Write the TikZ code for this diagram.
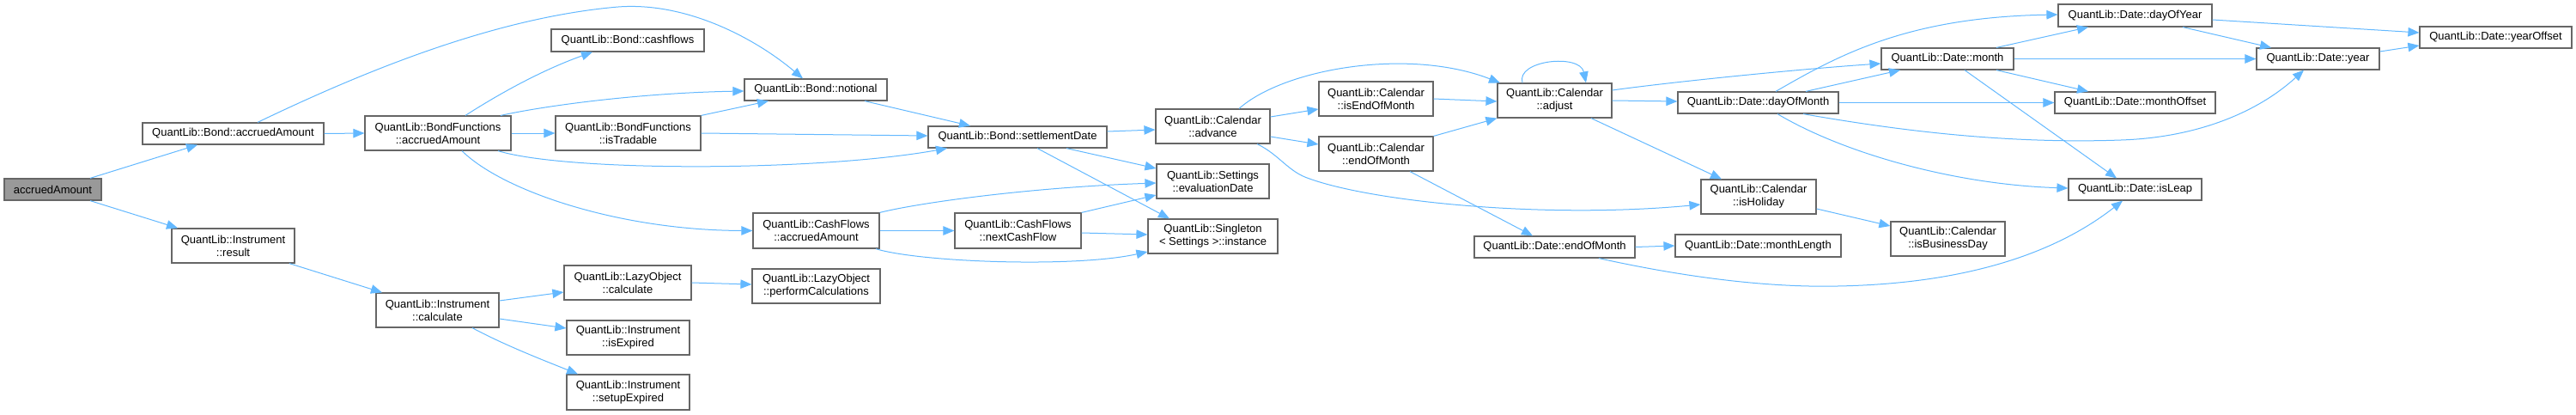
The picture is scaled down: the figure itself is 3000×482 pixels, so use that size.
\documentclass[tikz,border=0pt]{standalone}
\usepackage{fontspec}
\setmainfont{Liberation Sans}
\usetikzlibrary{arrows.meta}
\definecolor{edgecol}{HTML}{63B8FF}
\definecolor{bordercol}{HTML}{666666}
\definecolor{rootfill}{HTML}{999999}
\begin{document}
\begin{tikzpicture}[x=1pt,y=-1pt,
  box/.style={draw=bordercol,line width=1.2pt,fill=white,inner sep=0pt,align=center,
    font=\fontsize{13}{15}\selectfont},
  root/.style={box,fill=rootfill},
  e/.style={draw=edgecol,line width=1pt,-{Triangle[length=13pt,width=10.5pt]}}]
\useasboundingbox (0,0) rectangle (3000,482);
% nodes
\node[root,minimum width=113pt,minimum height=25pt] (n0) at (61.5,220.5) {accruedAmount};
\node[box,minimum width=211pt,minimum height=25pt] (n1) at (271.5,155.5) {QuantLib::Bond::accruedAmount};
\node[box,minimum width=143pt,minimum height=40pt] (n2) at (271.5,286) {QuantLib::Instrument\\::result};
\node[box,minimum width=170pt,minimum height=40pt] (n3) at (510,155) {QuantLib::BondFunctions\\::accruedAmount};
\node[box,minimum width=143pt,minimum height=40pt] (n4) at (509.5,361) {QuantLib::Instrument\\::calculate};
\node[box,minimum width=178pt,minimum height=26pt] (n5) at (731,47) {QuantLib::Bond::cashflows};
\node[box,minimum width=166pt,minimum height=25pt] (n6) at (950,104.5) {QuantLib::Bond::notional};
\node[box,minimum width=169pt,minimum height=40pt] (n7) at (731.5,155) {QuantLib::BondFunctions\\::isTradable};
\node[box,minimum width=147pt,minimum height=41pt] (n8) at (950.5,268.5) {QuantLib::CashFlows\\::accruedAmount};
\node[box,minimum width=148pt,minimum height=40pt] (n9) at (731,329) {QuantLib::LazyObject\\::calculate};
\node[box,minimum width=149pt,minimum height=40pt] (n10) at (950.5,333) {QuantLib::LazyObject\\::performCalculations};
\node[box,minimum width=143pt,minimum height=40pt] (n11) at (731.5,393) {QuantLib::Instrument\\::isExpired};
\node[box,minimum width=143pt,minimum height=41pt] (n12) at (731.5,456.5) {QuantLib::Instrument\\::setupExpired};
\node[box,minimum width=208pt,minimum height=25pt] (n13) at (1185,159.5) {QuantLib::Bond::settlementDate};
\node[box,minimum width=133pt,minimum height=40pt] (n14) at (1412.5,147) {QuantLib::Calendar\\::advance};
\node[box,minimum width=131pt,minimum height=40pt] (n15) at (1412.5,211) {QuantLib::Settings\\::evaluationDate};
\node[box,minimum width=151pt,minimum height=40pt] (n16) at (1412.5,275) {QuantLib::Singleton\\< Settings >::instance};
\node[box,minimum width=147pt,minimum height=41pt] (n17) at (1185.5,268.5) {QuantLib::CashFlows\\::nextCashFlow};
\node[box,minimum width=133pt,minimum height=40pt] (n18) at (1602.5,115) {QuantLib::Calendar\\::isEndOfMonth};
\node[box,minimum width=133pt,minimum height=40pt] (n19) at (1602.5,179) {QuantLib::Calendar\\::endOfMonth};
\node[box,minimum width=133pt,minimum height=40pt] (n20) at (1810.5,117) {QuantLib::Calendar\\::adjust};
\node[box,minimum width=187pt,minimum height=25pt] (n21) at (1810.5,287.5) {QuantLib::Date::endOfMonth};
\node[box,minimum width=134pt,minimum height=40pt] (n22) at (2048,229) {QuantLib::Calendar\\::isHoliday};
\node[box,minimum width=187pt,minimum height=25pt] (n23) at (2047.5,119.5) {QuantLib::Date::dayOfMonth};
\node[box,minimum width=193pt,minimum height=26pt] (n24) at (2047.5,286) {QuantLib::Date::monthLength};
\node[box,minimum width=179pt,minimum height=26pt] (n25) at (2486.5,18) {QuantLib::Date::dayOfYear};
\node[box,minimum width=154pt,minimum height=25pt] (n26) at (2268,68.5) {QuantLib::Date::month};
\node[box,minimum width=187pt,minimum height=25pt] (n27) at (2486.5,119.5) {QuantLib::Date::monthOffset};
\node[box,minimum width=155pt,minimum height=25pt] (n28) at (2486.5,220.5) {QuantLib::Date::isLeap};
\node[box,minimum width=133pt,minimum height=40pt] (n29) at (2268.5,278) {QuantLib::Calendar\\::isBusinessDay};
\node[box,minimum width=143pt,minimum height=25pt] (n30) at (2699.5,68.5) {QuantLib::Date::year};
\node[box,minimum width=177pt,minimum height=25pt] (n31) at (2906.5,43.5) {QuantLib::Date::yearOffset};
% edges
\draw[e] ([xshift=43.5pt]n0.north) -- ([xshift=-41.5pt]n1.south);
\draw[e] ([xshift=43.5pt]n0.south) -- ([xshift=-64.5pt]n2.north);
\draw[e] (n1.east) -- (n3.west);
\draw[e] ([xshift=28.5pt]n1.north) .. controls (430,80) and (580,20) .. (720,8) .. controls (800,2) and (880,45) .. ([xshift=-15pt]n6.north);
\draw[e] ([xshift=32pt]n3.north) .. controls (580,110) and (630,82) .. ([xshift=-41pt]n5.south);
\draw[e] ([xshift=73pt]n3.north) .. controls (640,122) and (750,108) .. ([yshift=-1.5pt]n6.west);
\draw[e] (n3.east) -- (n7.west);
\draw[e] ([xshift=70pt]n3.south) .. controls (660,200) and (950,200) .. ([xshift=-82pt]n13.south);
\draw[e] ([xshift=28pt]n3.south) .. controls (585,222) and (720,268) .. (n8.west);
\draw[e] (n7.north east) -- ([xshift=-55pt]n6.south);
\draw[e] (n7.east) -- ([yshift=1.5pt]n13.west);
\draw[e] ([xshift=57pt]n6.south) -- ([xshift=-55pt]n13.north);
\draw[e] ([yshift=6.5pt]n13.east) -- ([yshift=-4pt]n14.west);
\draw[e] ([xshift=57pt]n13.south) -- ([yshift=15pt]n15.west);
\draw[e] ([xshift=23pt]n13.south) -- ([xshift=-50.5pt]n16.north);
\draw[e] (n8.north east) .. controls (1070,236) and (1200,218) .. ([yshift=-2pt]n15.west);
\draw[e] (n8.east) -- (n17.west);
\draw[e] ([xshift=69.5pt]n8.south) .. controls (1070,305) and (1250,312) .. ([yshift=-18pt]n16.west);
\draw[e] (n17.north east) -- ([yshift=-16pt]n15.west);
\draw[e] ([yshift=-2.5pt]n17.east) -- ([yshift=2pt]n16.west);
\draw[e] ([xshift=65.5pt]n2.south) -- ([xshift=-64.5pt]n4.north);
\draw[e] ([yshift=11pt]n4.east) -- ([yshift=-11pt]n9.west);
\draw[e] ([yshift=-10pt]n4.east) -- ([yshift=11pt]n11.west);
\draw[e] ([xshift=40.5pt]n4.south) .. controls (590,403) and (640,422) .. ([xshift=-58.5pt]n12.north);
\draw[e] (n9.east) -- ([yshift=2pt]n10.west);
\draw[e] ([xshift=30.5pt]n14.north) .. controls (1495,80) and (1640,55) .. ([xshift=-63.5pt]n20.north);
\draw[e] ([yshift=11pt]n14.east) -- ([yshift=-12pt]n18.west);
\draw[e] ([yshift=-12pt]n14.east) -- ([yshift=11pt]n19.west);
\draw[e] ([xshift=51.5pt]n14.south) .. controls (1490,180) and (1500,200) .. (1525,208) .. controls (1600,235) and (1800,255) .. ([yshift=-9pt]n22.west);
\draw[e] (n18.east) -- ([yshift=-1pt]n20.west);
\draw[e] (n19.north east) -- (n20.south west);
\draw[e] ([xshift=39.5pt]n19.south) -- ([xshift=-25.5pt]n21.north);
\draw[e] ([xshift=-37.5pt]n20.north) .. controls (1765,70) and (1840,62) .. ([xshift=36.5pt]n20.north);
\draw[e] ([yshift=12pt]n20.east) .. controls (1950,95) and (2100,80) .. ([yshift=-5.5pt]n26.west);
\draw[e] (n20.east) -- ([yshift=1.5pt]n23.west);
\draw[e] ([xshift=42.5pt]n20.south) -- ([xshift=-43pt]n22.north);
\draw[e] (n21.east) -- (n24.west);
\draw[e] ([xshift=51.5pt]n21.south) .. controls (1950,320) and (2050,335) .. (2140,333) .. controls (2300,330) and (2400,290) .. ([xshift=-14.5pt]n28.south);
\draw[e] ([yshift=-14pt]n22.east) -- ([yshift=15pt]n29.west);
\draw[e] ([xshift=20.5pt]n23.north) .. controls (2140,65) and (2220,20) .. ([yshift=1pt]n25.west);
\draw[e] ([xshift=55.5pt]n23.north) -- ([xshift=-55pt]n26.south);
\draw[e] (n23.east) -- (n27.west);
\draw[e] ([xshift=52.5pt]n23.south) .. controls (2200,150) and (2330,168) .. (2470,163) .. controls (2560,160) and (2630,130) .. ([xshift=-16.5pt]n30.south);
\draw[e] ([xshift=22.5pt]n23.south) .. controls (2150,180) and (2280,215) .. ([yshift=1.5pt]n28.west);
\draw[e] ([xshift=57pt]n26.north) -- ([xshift=-54.5pt]n25.south);
\draw[e] (n26.east) -- (n30.west);
\draw[e] ([xshift=57pt]n26.south) -- ([xshift=-54.5pt]n27.north);
\draw[e] ([xshift=20pt]n26.south) -- ([xshift=-21.5pt]n28.north);
\draw[e] ([yshift=-5pt]n25.east) -- ([yshift=5.5pt]n31.west);
\draw[e] ([xshift=55.5pt]n25.south) -- ([xshift=-54.5pt]n30.north);
\draw[e] ([yshift=8.5pt]n30.east) -- ([yshift=-9.5pt]n31.west);
\end{tikzpicture}
\end{document}
